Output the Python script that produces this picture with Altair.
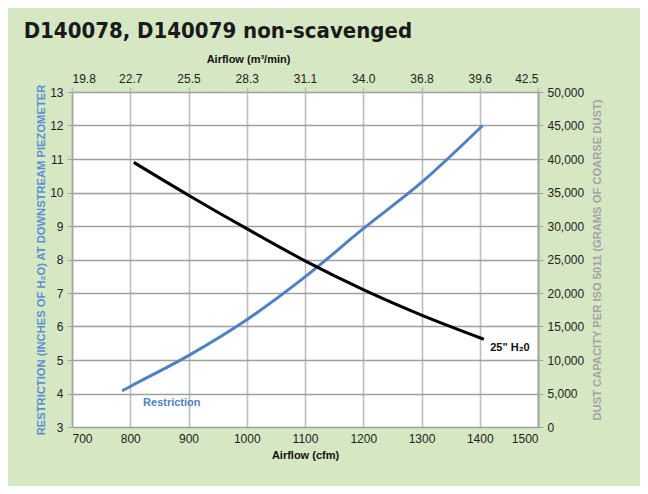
import altair as alt
import pandas as pd

# ---- data ----
rest_cfm = [786, 800, 900, 1000, 1100, 1200, 1300, 1405]
rest_in = [4.08, 4.21, 5.13, 6.2, 7.48, 8.92, 10.3, 12.0]

dust_cfm = [806, 900, 1000, 1100, 1200, 1300, 1407]
dust_g = [39500, 34600, 29600, 24800, 20500, 16700, 13100]

cfm_ticks = [700, 800, 900, 1000, 1100, 1200, 1300, 1400, 1500]
m3_labels = ["19.8", "22.7", "25.5", "28.3", "31.1", "34.0", "36.8", "39.6", "42.5"]
left_ticks = [3, 4, 5, 6, 7, 8, 9, 10, 11, 12, 13]
right_ticks = [0, 5000, 10000, 15000, 20000, 25000, 30000, 35000, 40000, 45000, 50000]

ann_text = ["Restriction", "25\" H₂0"]
ann_cfm = [822, 1418]
ann_in = [3.72, 5.37]
ann_color = ["#4f81c0", "#111111"]

rest_df = pd.DataFrame({"cfm": rest_cfm, "inH2O": rest_in})
dust_df = pd.DataFrame({"cfm": dust_cfm, "dust": dust_g})
ann_df = pd.DataFrame({"cfm": ann_cfm, "inH2O": ann_in, "label": ann_text, "color": ann_color})

FONT = "Liberation Sans"
BLUE = "#4f81c0"
VGRID = "#bdbdbd"
HGRID = "#9f9f9f"
AXIS = "#a5a5a5"

xscale = alt.Scale(domain=[700, 1500], nice=False, zero=False)
lscale = alt.Scale(domain=[3, 13], nice=False, zero=False)
rscale = alt.Scale(domain=[0, 50000], nice=False)

label_arr = "[" + ",".join("'" + s + "'" for s in m3_labels) + "]"

rest = alt.Chart(rest_df).mark_line(color=BLUE, strokeWidth=3, interpolate="monotone").encode(
    x=alt.X("cfm:Q", scale=xscale,
            axis=alt.Axis(values=cfm_ticks, title="Airflow (cfm)", orient="bottom",
                          labelExpr="format(datum.value, 'd')",
                          grid=True, gridColor=VGRID, gridWidth=1.6,
                          ticks=False, labelPadding=6, titlePadding=5,
                          domain=False)),
    y=alt.Y("inH2O:Q", scale=lscale,
            axis=alt.Axis(values=left_ticks, orient="left",
                          labelExpr="format(datum.value, 'd')",
                          title="RESTRICTION (INCHES OF H₂O) AT DOWNSTREAM PIEZOMETER",
                          titleColor="#5b8fd2", titleFontSize=11.2, titleFontWeight="bold",
                          grid=True, gridColor=HGRID, gridWidth=1.3,
                          tickSize=5, tickColor=AXIS, labelPadding=4, titlePadding=3,
                          domainColor=AXIS, domainWidth=1.6)),
)

dust = alt.Chart(dust_df).mark_line(color="black", strokeWidth=3, interpolate="monotone").encode(
    x=alt.X("cfm:Q", scale=xscale,
            axis=alt.Axis(values=cfm_ticks, orient="top", title="Airflow (m³/min)",
                          labelExpr=label_arr + "[round((datum.value-700)/100)]",
                          grid=False, tickSize=5, tickColor=VGRID, tickWidth=1.6,
                          labelPadding=2, titlePadding=8, titleX=176,
                          domain=False)),
    y=alt.Y("dust:Q", scale=rscale,
            axis=alt.Axis(values=right_ticks, orient="right",
                          labelExpr="format(datum.value, ',')",
                          title="DUST CAPACITY PER ISO 5011 (GRAMS OF COARSE DUST)",
                          titleColor="#a3a3a3", titleFontSize=11.2, titleFontWeight="bold",
                          titleAngle=270, titleBaseline="top",
                          grid=False, tickSize=5, tickColor=AXIS, labelPadding=4,
                          titlePadding=8, domainColor=AXIS, domainWidth=2)),
)

ann = alt.Chart(ann_df).mark_text(fontWeight="bold", fontSize=11, align="left",
                                  baseline="middle", font=FONT).encode(
    x=alt.X("cfm:Q", scale=xscale, axis=None),
    y=alt.Y("inH2O:Q", scale=lscale, axis=None),
    text="label:N",
    color=alt.Color("color:N", scale=None, legend=None),
)

chart = alt.layer(rest, dust, ann).resolve_scale(y="independent").resolve_axis(
    x="independent", y="independent"
).properties(
    width=466,
    height=335,
    background="#d5e8c3",
    autosize=alt.AutoSizeParams(type="none"),
    padding={"left": 64, "top": 84, "right": 102, "bottom": 59},
    title=alt.TitleParams(
        "D140078, D140079 non-scavenged",
        anchor="start",
        font="DejaVu Sans Condensed, Liberation Sans",
        fontSize=22,
        fontWeight="bold",
        color="#1a1a1a",
        dx=-12,
        offset=10,
    ),
).configure_view(fill="white", stroke=None).configure_axis(
    labelFont=FONT, labelFontSize=12, labelColor="#222222",
    titleFont=FONT, titleFontSize=11, titleFontWeight="bold", titleColor="#111111",
)

chart.save("out.html", embed_options={"renderer": "svg", "actions": False})
